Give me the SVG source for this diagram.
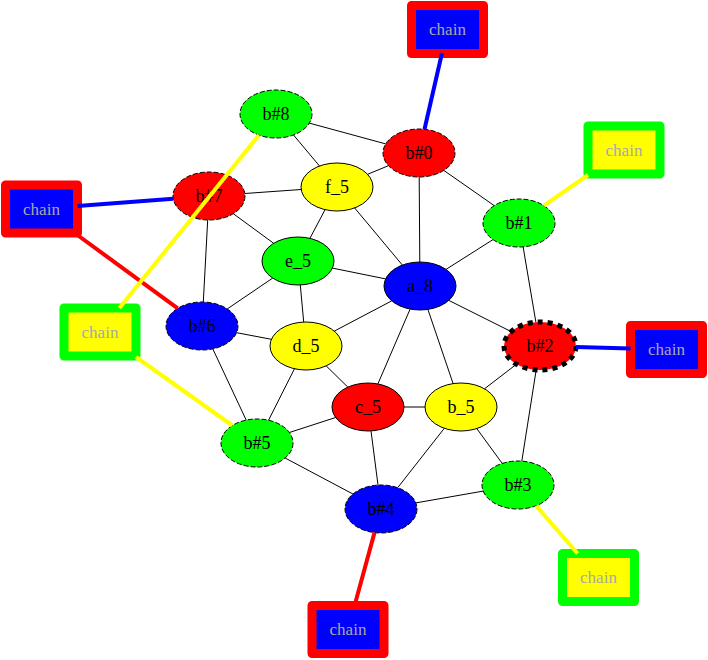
<svg xmlns="http://www.w3.org/2000/svg" width="708" height="660" viewBox="0 0 708 660">
<style>
.e{stroke:#000;stroke-width:1;fill:none}
.ce{fill:none;stroke-width:4}
.n{stroke:#000;stroke-width:1}
.d{stroke-dasharray:5,2}
.t{font-family:"Liberation Serif","Times New Roman",serif;font-size:18px;text-anchor:middle;fill:#000}
.ct{font-family:"Liberation Serif","Times New Roman",serif;font-size:17px;text-anchor:middle;fill:#a8a8a8}
.rb{fill:#0000ff;stroke:#ff0000;stroke-width:9;stroke-linejoin:round}
.gy{fill:#ffff00;stroke:#00ff00;stroke-width:9;stroke-linejoin:round}
</style>
<rect width="708" height="660" fill="#fff"/>
<g id="nodes">
<g id="b8"><ellipse class="n d" cx="276" cy="114" rx="36" ry="24" fill="#00ff00"/><text class="t" x="276" y="120">b#8</text></g>
<g id="b0"><ellipse class="n d" cx="419" cy="153" rx="36" ry="24" fill="#ff0000"/><text class="t" x="419" y="159">b#0</text></g>
<g id="f5"><ellipse class="n" cx="337" cy="187" rx="36" ry="24" fill="#ffff00"/><text class="t" x="337" y="193">f_5</text></g>
<g id="b7"><ellipse class="n d" cx="209" cy="196" rx="36" ry="24" fill="#ff0000"/><text class="t" x="209" y="202">b#7</text></g>
<g id="b1"><ellipse class="n d" cx="519" cy="223" rx="36" ry="24" fill="#00ff00"/><text class="t" x="519" y="229">b#1</text></g>
<g id="e5"><ellipse class="n" cx="298" cy="261" rx="36" ry="24" fill="#00ff00"/><text class="t" x="298" y="267">e_5</text></g>
<g id="a8"><ellipse class="n" cx="420" cy="286" rx="36" ry="24" fill="#0000ff"/><text class="t" x="420" y="292">a_8</text></g>
<g id="b2"><ellipse cx="540" cy="346" rx="36" ry="24" fill="#ff0000" stroke="#000" stroke-width="5" stroke-dasharray="5,5"/><text class="t" x="540" y="352">b#2</text></g>
<g id="b6"><ellipse class="n d" cx="202" cy="326" rx="36" ry="24" fill="#0000ff"/><text class="t" x="202" y="332">b#6</text></g>
<g id="d5"><ellipse class="n" cx="306" cy="346" rx="36" ry="24" fill="#ffff00"/><text class="t" x="306" y="352">d_5</text></g>
<g id="c5"><ellipse class="n" cx="368" cy="407" rx="36" ry="24" fill="#ff0000"/><text class="t" x="368" y="413">c_5</text></g>
<g id="b_5"><ellipse class="n" cx="461" cy="407" rx="36" ry="24" fill="#ffff00"/><text class="t" x="461" y="413">b_5</text></g>
<g id="bh5"><ellipse class="n d" cx="257" cy="443" rx="36" ry="24" fill="#00ff00"/><text class="t" x="257" y="449">b#5</text></g>
<g id="b3"><ellipse class="n d" cx="518" cy="485" rx="36" ry="24" fill="#00ff00"/><text class="t" x="518" y="491">b#3</text></g>
<g id="b4"><ellipse class="n d" cx="381" cy="509" rx="36" ry="24" fill="#0000ff"/><text class="t" x="381" y="515">b#4</text></g>
<g id="chain0"><rect class="rb" x="411.5" y="5.5" width="72" height="48"/><text class="ct" x="447.5" y="35">chain</text></g>
<g id="chain1"><rect class="gy" x="588" y="126" width="72" height="48"/><text class="ct" x="624" y="155.5">chain</text></g>
<g id="chain7"><rect class="rb" x="5.5" y="185" width="72" height="48"/><text class="ct" x="41.5" y="214.5">chain</text></g>
<g id="chain8"><rect class="gy" x="64" y="308" width="72" height="48"/><text class="ct" x="100" y="337.5">chain</text></g>
<g id="chain2"><rect class="rb" x="630.5" y="325.5" width="72" height="48"/><text class="ct" x="666.5" y="355">chain</text></g>
<g id="chain3"><rect class="gy" x="562.5" y="553.5" width="72" height="48"/><text class="ct" x="598.5" y="583">chain</text></g>
<g id="chain4"><rect class="rb" x="312" y="605.5" width="72" height="48"/><text class="ct" x="348" y="635">chain</text></g>
</g>
<g id="connectors">
<line class="e" x1="309.3" y1="123.1" x2="385.7" y2="143.9"/>
<line class="e" x1="293.5" y1="135" x2="319.5" y2="166"/>
<line class="e" x1="388.4" y1="165.7" x2="367.6" y2="174.3"/>
<line class="e" x1="419.2" y1="177" x2="419.8" y2="262"/>
<line class="e" x1="443.8" y1="170.4" x2="494.2" y2="205.6"/>
<line class="e" x1="244.8" y1="193.5" x2="301.2" y2="189.5"/>
<line class="e" x1="233.3" y1="213.7" x2="273.7" y2="243.3"/>
<line class="e" x1="207.7" y1="220" x2="203.3" y2="302"/>
<line class="e" x1="325.1" y1="209.6" x2="309.9" y2="238.4"/>
<line class="e" x1="354.6" y1="207.9" x2="402.4" y2="265.1"/>
<line class="e" x1="493" y1="239.6" x2="446" y2="269.4"/>
<line class="e" x1="523.1" y1="246.8" x2="535.9" y2="322.2"/>
<line class="e" x1="332.4" y1="268.1" x2="385.6" y2="278.9"/>
<line class="e" x1="272.7" y1="278.1" x2="227.3" y2="308.9"/>
<line class="e" x1="300.3" y1="285" x2="303.7" y2="322"/>
<line class="e" x1="448.8" y1="300.4" x2="511.2" y2="331.6"/>
<line class="e" x1="391.7" y1="300.9" x2="334.3" y2="331.1"/>
<line class="e" x1="410.1" y1="309.1" x2="377.9" y2="383.9"/>
<line class="e" x1="427.9" y1="309.4" x2="453.1" y2="383.6"/>
<line class="e" x1="236.6" y1="332.7" x2="271.4" y2="339.3"/>
<line class="e" x1="212.8" y1="348.9" x2="246.2" y2="420.1"/>
<line class="e" x1="326.2" y1="365.9" x2="347.8" y2="387.1"/>
<line class="e" x1="294.5" y1="368.7" x2="268.5" y2="420.3"/>
<line class="e" x1="404" y1="407" x2="425" y2="407"/>
<line class="e" x1="335.6" y1="417.5" x2="289.4" y2="432.5"/>
<line class="e" x1="371" y1="430.9" x2="378" y2="485.1"/>
<line class="e" x1="484.5" y1="388.8" x2="516.5" y2="364.2"/>
<line class="e" x1="476.8" y1="428.6" x2="502.2" y2="463.4"/>
<line class="e" x1="444.3" y1="428.3" x2="397.7" y2="487.7"/>
<line class="e" x1="536.2" y1="369.9" x2="521.8" y2="461.1"/>
<line class="e" x1="483.2" y1="491.1" x2="415.8" y2="502.9"/>
<line class="e" x1="285.1" y1="458" x2="352.9" y2="494"/>
<line class="ce" stroke="#0000ff" x1="424.5" y1="129.3" x2="442" y2="53"/>
<line class="ce" stroke="#ffff00" x1="543.9" y1="205.7" x2="588" y2="175"/>
<line class="ce" stroke="#0000ff" x1="173.2" y1="198.8" x2="77.5" y2="206"/>
<line class="ce" stroke="#ff0000" x1="177.7" y1="308.3" x2="76" y2="234"/>
<line class="ce" stroke="#ffff00" x1="258.9" y1="135.1" x2="119.4" y2="308"/>
<line class="ce" stroke="#ffff00" x1="232.3" y1="425.5" x2="136" y2="357"/>
<line class="ce" stroke="#0000ff" x1="576" y1="347" x2="630.5" y2="348.5"/>
<line class="ce" stroke="#ffff00" x1="536.1" y1="505.8" x2="577.6" y2="553.5"/>
<line class="ce" stroke="#ff0000" x1="374.5" y1="532.6" x2="354.6" y2="605.5"/>
</g>
</svg>
